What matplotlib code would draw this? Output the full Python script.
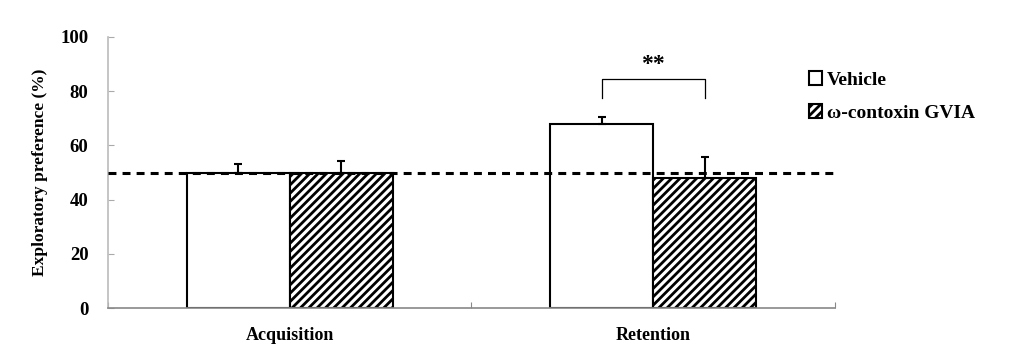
#!/usr/bin/env python3
"""Exploratory preference, vehicle vs omega-conotoxin GVIA."""
import matplotlib
matplotlib.use("Agg")
import matplotlib.pyplot as plt
import numpy as np

plt.rcParams["font.family"] = ["Liberation Serif", "DejaVu Serif"]
plt.rcParams["font.weight"] = "bold"
plt.rcParams["hatch.linewidth"] = 2.0

phases = ["Acquisition", "Retention"]
series = ["Vehicle", "ω-contoxin GVIA"]
vehicle = [50.0, 68.0]
vehicle_err = [3.0, 2.5]
drug = [49.8, 48.0]
drug_err = [4.5, 7.7]
chance = 50
sig_label = "**"

fig = plt.figure(figsize=(10.34, 3.45), dpi=100)
ax = fig.add_axes([0.1044, 0.1072, 0.7031, 0.7856])

x = np.arange(len(phases)) + 0.5
w = 0.283
ebar = dict(ecolor="black", elinewidth=1.5, capsize=3.2, capthick=1.5)
b1 = ax.bar(x - w/2, vehicle, width=w, color="white", edgecolor="black",
            linewidth=1.5, label=series[0], zorder=2)
b2 = ax.bar(x + w/2, drug, width=w, color="white", edgecolor="black",
            linewidth=1.5, hatch="////", label=series[1], zorder=2)
# upward-only error bars
ax.errorbar(x - w/2, vehicle, yerr=[np.zeros(2), vehicle_err], fmt="none", zorder=3, **ebar)
ax.errorbar(x + w/2, drug, yerr=[np.zeros(2), drug_err], fmt="none", zorder=3, **ebar)

ax.axhline(chance, color="black", lw=2.2, dashes=(2.6, 2.0), zorder=4)

# significance bracket on Retention
xl, xr = x[1] - w/2, x[1] + w/2
ax.plot([xl, xl, xr, xr], [77.5, 84.5, 84.5, 77.5], color="black", lw=0.9)
ax.text(x[1], 86.0, sig_label, ha="center", va="bottom", fontsize=17)

ax.set_xlim(0, 2)
ax.set_ylim(0, 100)
ax.set_yticks(np.arange(0, 101, 20))
ax.set_xticks([0, 1, 2])
ax.set_xticklabels([])
ax.set_xticks(x, minor=True)
ax.set_xticklabels(phases, minor=True)
ax.tick_params(axis="x", which="minor", length=0, pad=14, labelsize=13)
ax.tick_params(axis="x", which="major", direction="in", length=4, color="#888888")
ax.tick_params(axis="y", direction="in", length=4, color="#aaaaaa", pad=14, labelsize=13.5)
for lab in ax.get_yticklabels() + ax.get_xticklabels(minor=True):
    lab.set_fontweight("bold")
for s in ("top", "right"):
    ax.spines[s].set_visible(False)
ax.spines["left"].set_color("#bbbbbb")
ax.spines["bottom"].set_color("#888888")
ax.spines["left"].set_linewidth(1.2)
ax.spines["bottom"].set_linewidth(1.2)
ax.set_ylabel("Exploratory preference (%)", fontsize=12.5, fontweight="bold", labelpad=9)

fig.legend(handles=[b1, b2], loc="upper left", bbox_to_anchor=(0.765, 0.845),
           frameon=False, handlelength=0.7, handleheight=0.7, handletextpad=0.25,
           labelspacing=0.8, prop={"weight": "bold", "size": 14})

fig.savefig("out.png", dpi=100)
